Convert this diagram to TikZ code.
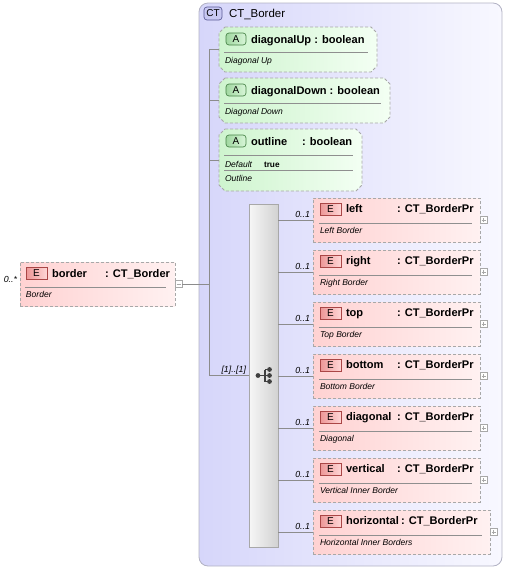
\documentclass[tikz,border=0pt]{standalone}
\usepackage{fontspec}
\setmainfont{Liberation Sans}
\usetikzlibrary{positioning}

\newdimen\px \px=0.75pt

\definecolor{elemL}{RGB}{255,210,210}
\definecolor{elemR}{RGB}{255,241,241}
\definecolor{attrL}{RGB}{206,244,206}
\definecolor{attrR}{RGB}{243,255,243}
\definecolor{ctL}{RGB}{214,214,250}
\definecolor{ctR}{RGB}{248,248,255}
\definecolor{ctEdge}{RGB}{178,178,196}
\definecolor{edge}{RGB}{168,168,168}
\definecolor{wire}{RGB}{140,140,140}
\definecolor{ebadgeL}{RGB}{236,150,150}
\definecolor{ebadgeR}{RGB}{255,214,214}
\definecolor{ebadgeEdge}{RGB}{170,70,70}
\definecolor{abadgeL}{RGB}{160,215,160}
\definecolor{abadgeR}{RGB}{216,246,216}
\definecolor{abadgeEdge}{RGB}{70,130,70}
\definecolor{ctBadge}{RGB}{200,200,242}
\definecolor{ctBadgeEdge}{RGB}{90,90,150}
\definecolor{seqL}{RGB}{246,246,246}
\definecolor{seqR}{RGB}{210,210,210}

\begin{document}
\begin{tikzpicture}[
    x=0.75pt, y=-0.75pt,
    node distance=8\px,
    every node/.style={inner sep=0pt, outer sep=0pt},
    wire/.style={draw=wire, line width=0.6pt},
    sepline/.style={draw=edge!85!black, line width=0.5pt},
    container/.style={rectangle, rounded corners=9\px, draw=ctEdge, line width=0.6pt, left color=ctL, right color=ctR},
    elem/.style={rectangle, draw=edge, line width=0.6pt, dash pattern=on 3\px off 2\px, left color=elemL, right color=elemR, minimum width=167\px, minimum height=44\px},
    attr/.style={rectangle},
    attrshape/.style={draw=edge, line width=0.6pt, dash pattern=on 3\px off 2\px, left color=attrL, right color=attrR},
    seqbox/.style={rectangle, draw=edge, line width=0.6pt, left color=seqL, right color=seqR},
    ebadge/.style={rectangle, draw=ebadgeEdge, line width=0.5pt, left color=ebadgeL, right color=ebadgeR, minimum width=21\px, minimum height=12\px, font=\fontsize{7.5}{8}\selectfont},
    abadge/.style={rectangle, rounded corners=3\px, draw=abadgeEdge, line width=0.5pt, left color=abadgeL, right color=abadgeR, minimum width=20\px, minimum height=12\px, font=\fontsize{7.5}{8}\selectfont},
    ctbadge/.style={rectangle, rounded corners=3\px, draw=ctBadgeEdge, line width=0.5pt, fill=ctBadge, minimum width=18\px, minimum height=13\px, font=\fontsize{7.5}{8}\selectfont},
    title/.style={anchor=base west, font=\fontsize{8.3}{10}\selectfont\bfseries},
    desc/.style={anchor=base west, font=\fontsize{6.4}{8}\selectfont\itshape},
    card/.style={font=\fontsize{6.6}{8}\selectfont\itshape},
    expander/.style={rectangle, draw=edge, line width=0.5pt, fill=white, minimum size=7\px},
    plus/.style={expander, path picture={
        \draw[edge, line width=0.5pt] ([xshift=1.5\px]path picture bounding box.west) -- ([xshift=-1.5\px]path picture bounding box.east);
        \draw[edge, line width=0.5pt] ([yshift=-1.5\px]path picture bounding box.north) -- ([yshift=1.5\px]path picture bounding box.south);}},
    minus/.style={expander, path picture={
        \draw[edge, line width=0.5pt] ([xshift=1.5\px]path picture bounding box.west) -- ([xshift=-1.5\px]path picture bounding box.east);}}
]
\useasboundingbox (0,0) rectangle (506,569);

% Complex type
\node[container, minimum width=303\px, minimum height=563\px] (ct) at (350.5,284.5) {};
\node[ctbadge] (ctB) at ([shift={(14,10.5)}]ct.north west) {CT};
\node[anchor=base west, font=\fontsize{8.6}{10}\selectfont] (ctN) at ([shift={(30,14)}]ct.north west) {CT\_Border};

% Root element
\node[elem, minimum width=155\px] (border) at (97.5,284) {};
\node[ebadge] (borderB) at ([shift={(16.5,11.5)}]border.north west) {E};
\node[title] (borderN) at ([shift={(32,15)}]border.north west) {border};
\node[title] (borderT) at ([shift={(85,15)}]border.north west) {: CT\_Border};
\draw[sepline] ([shift={(5,25)}]border.north west) -- ([shift={(-9,25)}]border.north east);
\node[desc] (borderD) at ([shift={(6,35.5)}]border.north west) {Border};
\node[card, anchor=base east] (borderC) at ([shift={(-3,20)}]border.north west) {0..*};
\node[minus, anchor=west] (borderX) at (border.east) {};
\coordinate (spine) at (209,284);
\draw[wire] (borderX) -- (spine);

% Attributes
\node[attr, minimum width=158\px, minimum height=45\px] (a1) at (298,49.5) {};
\node[attr, minimum width=171\px, minimum height=45\px] (a2) at (304.5,100.5) {};
\node[attr, minimum width=143\px, minimum height=62\px] (a3) at (290.5,160) {};
\foreach \a in {a1,a2,a3}
  \path[attrshape] ([xshift=6\px]\a.north west) -- ([xshift=-6\px]\a.north east)
    -- ([yshift=-6\px]\a.north east) -- ([yshift=6\px]\a.south east)
    -- ([xshift=-6\px]\a.south east) -- ([xshift=6\px]\a.south west)
    -- ([yshift=6\px]\a.south west) -- ([yshift=-6\px]\a.north west) -- cycle;

\node[abadge] (a1B) at ([shift={(17,12)}]a1.north west) {A};
\node[title] (a1N) at ([shift={(32,16)}]a1.north west) {diagonalUp : boolean};
\draw[sepline] ([shift={(5,25)}]a1.north west) -- ([shift={(-9,25)}]a1.north east);
\node[desc] (a1D) at ([shift={(6,36)}]a1.north west) {Diagonal Up};

\node[abadge] (a2B) at ([shift={(17,12)}]a2.north west) {A};
\node[title] (a2N) at ([shift={(32,16)}]a2.north west) {diagonalDown : boolean};
\draw[sepline] ([shift={(5,25)}]a2.north west) -- ([shift={(-9,25)}]a2.north east);
\node[desc] (a2D) at ([shift={(6,36)}]a2.north west) {Diagonal Down};

\node[abadge] (a3B) at ([shift={(17,12)}]a3.north west) {A};
\node[title] (a3N) at ([shift={(32,16)}]a3.north west) {outline};
\node[title] (a3T) at ([shift={(83,16)}]a3.north west) {: boolean};
\draw[sepline] ([shift={(5,26)}]a3.north west) -- ([shift={(-9,26)}]a3.north east);
\node[desc] (a3K) at ([shift={(6,38)}]a3.north west) {Default};
\node[anchor=base west, font=\fontsize{6.2}{8}\selectfont\bfseries] (a3V) at ([shift={(45,38)}]a3.north west) {true};
\draw[sepline] ([shift={(5,41)}]a3.north west) -- ([shift={(-9,41)}]a3.north east);
\node[desc] (a3D) at ([shift={(6,52)}]a3.north west) {Outline};

% Sequence
\node[seqbox, minimum width=29\px, minimum height=343\px] (seq) at (263.5,375.5) {};
\node[card, anchor=base east] (seqC) at ([shift={(-3,-3)}]seq.west) {[1]..[1]};
\begin{scope}[shift={(seq.center)}]
  \draw[black!75, line width=0.8pt] (-5.5,0) -- (1.5,0) (1.5,-6) -- (1.5,6)
    (1.5,-6) -- (6,-6) (1.5,0) -- (6,0) (1.5,6) -- (6,6);
  \fill[black!75] (-5.5,0) circle (2.4\px) (6,-6) circle (2.4\px)
    (6,0) circle (2.4\px) (6,6) circle (2.4\px);
\end{scope}

% Wiring
\draw[wire] (spine |- a1.west) -- (a1.west);
\draw[wire] (spine |- a2.west) -- (a2.west);
\draw[wire] (spine |- a3.west) -- (a3.west);
\draw[wire] (spine |- a1.west) -- (spine |- seq.west) -- (seq.west);

% Child elements
\node[elem, anchor=north west] (e1) at (313,198) {};
\node[elem, below=of e1] (e2) {};
\node[elem, below=of e2] (e3) {};
\node[elem, below=of e3] (e4) {};
\node[elem, below=of e4] (e5) {};
\node[elem, below=of e5] (e6) {};
\node[elem, below=of e6.south west, anchor=north west, minimum width=177\px] (e7) {};

\foreach \ch/\nm/\txt/\tx in {e1/left/Left Border/84, e2/right/Right Border/84,
    e3/top/Top Border/84, e4/bottom/Bottom Border/84, e5/diagonal/Diagonal/84,
    e6/vertical/Vertical Inner Border/84, e7/horizontal/Horizontal Inner Borders/88}{
  \node[ebadge] (\ch-b) at ([shift={(17.5,11)}]\ch.north west) {E};
  \node[title] (\ch-n) at ([shift={(33,14.5)}]\ch.north west) {\nm};
  \node[title] (\ch-t) at ([shift={(\tx,14.5)}]\ch.north west) {: CT\_BorderPr};
  \draw[sepline] ([shift={(6,25)}]\ch.north west) -- ([shift={(-8,25)}]\ch.north east);
  \node[desc] (\ch-d) at ([shift={(7,35)}]\ch.north west) {\txt};
  \node[plus, anchor=west] (\ch-x) at (\ch.east) {};
  \draw[wire] (seq.east |- \ch.west) -- (\ch.west);
  \node[card, anchor=south east] (\ch-c) at ([shift={(-3,-2)}]\ch.west) {0..1};
}

\end{tikzpicture}
\end{document}
